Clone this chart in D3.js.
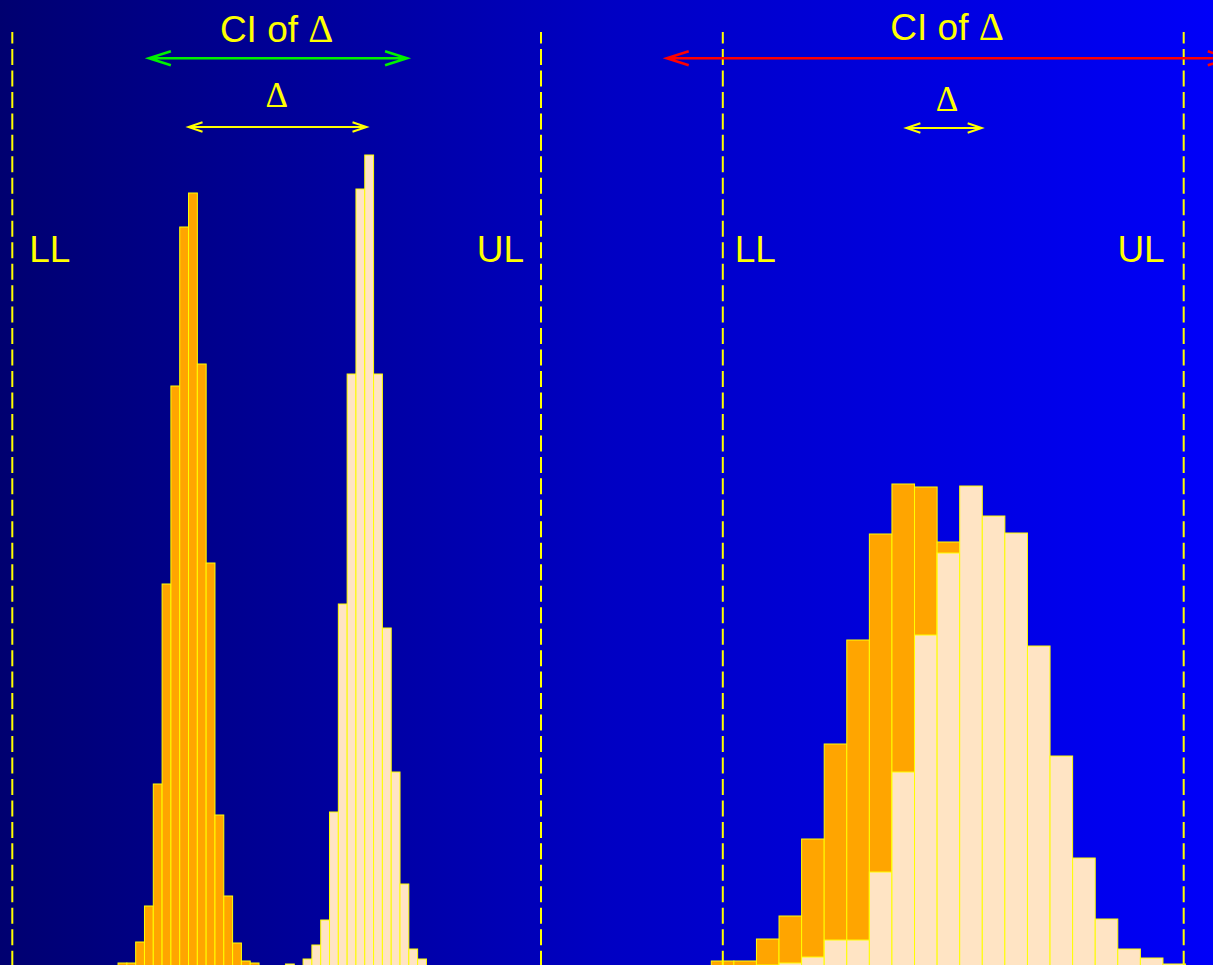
<!DOCTYPE html>
<html>
<head>
<meta charset="utf-8">
<script src="https://cdn.jsdelivr.net/npm/d3@7"></script>
<style>
  body { margin: 0; overflow: hidden; background: #000; }
  #vis { width: 1213px; height: 965px; }
</style>
</head>
<body>
<div id="vis"></div>
<script>
// equivalence limits (LL, UL) of each panel, in the panel's own units
const leftLimits = [-3, 3];
const rightLimits = [-3, 3];
const limitLabels = ['LL', 'UL'];

// left panel: two narrow histograms (bin width 0.1)
const leftBinWidth = 0.1;
const leftOrangeStart = -1.8;
const leftOrange = [3, 3, 24, 60, 182, 382, 580, 739, 773, 602, 403, 151, 70, 23, 5, 3];
const leftBisqueStart = 0.1;
const leftBisque = [2, 0, 7, 21, 46, 154, 362, 592, 777, 811, 592, 338, 194, 82, 17, 7];
const leftCI = [-1.45, 1.48];
const leftDelta = [-1.0, 1.02];

// right panel: two wide, overlapping histograms
const rightBinWidth = 0.294;
const rightBinStart = -3.15;
const rightOrange = [5, 5, 27, 50, 127, 222, 326, 432, 482, 479, 424, 318, 215, 120, 52, 20, 7, 3, 1, 0, 0];
const rightBisque = [0, 0, 1, 3, 9, 26, 26, 94, 194, 331, 413, 480, 450, 433, 320, 210, 108, 47, 17, 8, 2];
const rightCI = [-3.73, 3.6];
const rightDelta = [-0.61, 0.37];

let width = 1213,
    height = 965;

let svg = d3.select('#vis')
  .append('svg')
  .attr('width', width)
  .attr('height', height)
  .attr('viewBox', [0, 0, width, height].join(' '));

// background gradient, dark navy to bright blue
let defs = svg.append('defs');
let grad = defs.append('linearGradient')
  .attr('id', 'bg')
  .attr('x1', '0%').attr('x2', '100%')
  .attr('y1', '0%').attr('y2', '0%');
grad.append('stop').attr('offset', '0%').attr('stop-color', 'rgb(0,0,112)');
grad.append('stop').attr('offset', '50%').attr('stop-color', 'rgb(0,0,195)');
grad.append('stop').attr('offset', '100%').attr('stop-color', 'rgb(0,0,248)');

svg.append('rect')
  .attr('width', width)
  .attr('height', height)
  .attr('fill', 'url(#bg)');

// shared count scale, baseline sits just under the picture edge
let y = d3.scaleLinear().domain([0, 800]).range([966, 166]);

let xLeft = d3.scaleLinear().domain(leftLimits).range([12.3, 541]);
let xRight = d3.scaleLinear().domain(rightLimits).range([722.8, 1183.7]);

const sans = '"Liberation Sans", Arial, sans-serif';
const serif = '"Liberation Serif", "Times New Roman", serif';

function toBins(start, w, values) {
  return values.map((v, i) => ({ x0: start + i * w, x1: start + (i + 1) * w, v: v }));
}

function drawHist(g, x, data, fill) {
  g.append('g')
    .selectAll('rect')
    .data(data)
    .join('rect')
    .attr('x', d => x(d.x0))
    .attr('width', d => x(d.x1) - x(d.x0))
    .attr('y', d => y(d.v))
    .attr('height', d => y(0) - y(d.v))
    .attr('fill', fill)
    .attr('stroke', '#ffff00')
    .attr('stroke-width', 1);
}

// double headed arrow with open V heads
function arrow(g, x, range, yy, color, len, half, sw) {
  let a = x(range[0]), b = x(range[1]);
  let p = d3.path();
  p.moveTo(a, yy); p.lineTo(b, yy);
  p.moveTo(a + len, yy - half); p.lineTo(a, yy); p.lineTo(a + len, yy + half);
  p.moveTo(b - len, yy - half); p.lineTo(b, yy); p.lineTo(b - len, yy + half);
  g.append('path')
    .attr('d', p.toString())
    .attr('fill', 'none')
    .attr('stroke', color)
    .attr('stroke-width', sw);
}

function drawPanel(x, limits, hists, ci, ciColor, delta, opts) {
  let g = svg.append('g');
  hists.forEach(h => drawHist(g, x, h.bins, h.fill));

  // dashed equivalence limits
  g.selectAll('line.limit')
    .data(limits)
    .join('line')
    .attr('class', 'limit')
    .attr('x1', d => x(d)).attr('x2', d => x(d))
    .attr('y1', 32).attr('y2', 975)
    .attr('stroke', '#ffff00')
    .attr('stroke-width', 2)
    .attr('stroke-dasharray', '16,5.47')
    .attr('stroke-dashoffset', 4.5);

  g.selectAll('text.limit')
    .data(limitLabels)
    .join('text')
    .attr('class', 'limit')
    .attr('x', (d, i) => x(limits[i]) + (i === 0 ? opts.llPad : -opts.ulPad))
    .attr('y', 262)
    .attr('text-anchor', (d, i) => i === 0 ? 'start' : 'end')
    .attr('fill', '#ffff00')
    .style('font-family', sans)
    .style('font-size', '37px')
    .text(d => d);

  arrow(g, x, ci, 58.3, ciColor, 22, 7, 2.5);
  arrow(g, x, delta, opts.deltaY, '#ffff00', 14, 4.7, 2);

  let ciText = g.append('text')
    .attr('x', x(opts.ciTextX))
    .attr('y', opts.ciTextY)
    .attr('text-anchor', 'middle')
    .attr('fill', '#ffff00')
    .style('font-family', sans)
    .style('font-size', '37px');
  ciText.append('tspan').text('CI of ');
  ciText.append('tspan')
    .style('font-family', serif)
    .style('font-size', '39px')
    .text('Δ');

  g.append('text')
    .attr('x', x(opts.deltaTextX))
    .attr('y', opts.deltaTextY)
    .attr('text-anchor', 'middle')
    .attr('fill', '#ffff00')
    .style('font-family', serif)
    .style('font-size', '35px')
    .text('Δ');
}

drawPanel(xLeft, leftLimits,
  [{ bins: toBins(leftOrangeStart, leftBinWidth, leftOrange), fill: '#ffa500' },
   { bins: toBins(leftBisqueStart, leftBinWidth, leftBisque), fill: '#ffe4c4' }],
  leftCI, '#00f000', leftDelta,
  { llPad: 17, ulPad: 17, deltaY: 127, ciTextX: 0, ciTextY: 42, deltaTextX: 0, deltaTextY: 106.5 });

drawPanel(xRight, rightLimits,
  [{ bins: toBins(rightBinStart, rightBinWidth, rightOrange), fill: '#ffa500' },
   { bins: toBins(rightBinStart, rightBinWidth, rightBisque), fill: '#ffe4c4' }],
  rightCI, '#ff0000', rightDelta,
  { llPad: 12, ulPad: 19, deltaY: 128, ciTextX: -0.08, ciTextY: 39.5, deltaTextX: -0.08, deltaTextY: 110.5 });
</script>
</body>
</html>
